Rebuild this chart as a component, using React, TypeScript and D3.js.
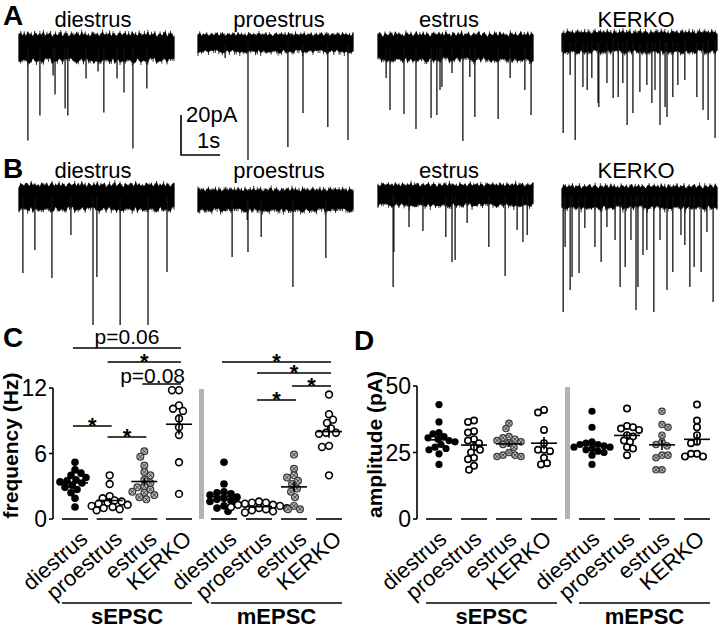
import React from "react";
import * as d3 from "d3";

const FONT = "'Liberation Sans', Arial, Helvetica, sans-serif";

// ---------- Trace data (A: sEPSC, B: mEPSC) ----------
const conditions = ["diestrus", "proestrus", "estrus", "KERKO"];
// spikes: [time (s), amplitude (pA, inward)]
const A_diestrus = [[0.23,46.5],[0.54,34],[0.88,14],[0.93,23.5],[1.19,30.5],[1.26,34],[1.73,15.5],[2.04,12],[2.19,32.5],[2.53,15.5],[2.71,22.5],[2.94,50.5],[3.30,20.5]];
const A_proestrus = [[0.70,7.5],[1.29,58.5],[2.32,52],[2.71,35],[3.35,42],[3.87,48.5]];
const A_estrus = [[0.21,15.5],[0.31,31.5],[0.67,33.5],[0.98,41],[1.37,35.5],[1.52,34],[1.60,21.5],[1.65,20],[1.91,13],[2.19,47],[2.37,15],[2.50,35],[3.10,36],[3.41,15.5],[3.79,21.5],[3.95,34]];
const A_KERKO = [[0.03,45.5],[0.21,16.5],[0.34,49],[0.54,22.5],[0.65,24],[0.77,18],[0.93,30.5],[0.95,32.5],[1.16,20.5],[1.32,28],[1.45,27.5],[1.57,20.5],[1.68,41.5],[1.83,35.5],[2.01,25],[2.19,21.5],[2.32,30.5],[2.40,24],[2.53,41.5],[2.66,32.5],[2.71,37.5],[2.86,27.5],[2.99,21.5],[3.17,19],[3.48,27.5],[3.64,34],[3.77,39],[3.95,48]];
const B_diestrus = [[0.10,38],[0.41,26.5],[0.85,40.5],[1.34,19],[1.91,64],[2.01,40],[2.61,64],[3.33,64],[3.82,37.5]];
const B_proestrus = [[0.88,28.5],[1.27,10],[1.29,26],[1.63,18.5],[2.45,43.5],[3.30,29]];
const B_estrus = [[0.39,46],[0.41,28.5],[0.80,16],[1.16,18],[1.75,21],[1.91,33.5],[1.99,32.5],[2.30,14],[2.86,26],[3.28,40.5],[3.59,17.5],[3.74,23.5],[3.85,20]];
const B_KERKO = [[0.03,57.5],[0.08,25],[0.21,46.5],[0.26,40],[0.44,38],[0.59,15.5],[0.85,25],[1.01,32.5],[1.16,15],[1.37,21.5],[1.50,45],[1.63,35],[1.78,21.5],[1.91,56.5],[1.96,45],[2.09,29],[2.19,26.5],[2.37,57.5],[2.53,21.5],[2.71,46.5],[2.86,37.5],[3.07,19],[3.17,24],[3.30,45],[3.41,35],[3.59,37.5],[3.74,17.5],[3.90,52.5]];
// noise band half-width (pA)
const A_noise = [7.75, 5, 7.5, 5.75];
const B_noise = [7.25, 6, 6, 6.25];
// envelope jitter profile (fraction of half-width)
const NOISE = [0.6,0.9,0.4,0.8,0.3,1.0,0.5,0.7,0.2,0.9,0.6,0.4,0.8,0.5,1.0,0.3,0.7,0.6,0.9,0.2,0.5,0.8,0.4,0.7,1.0,0.3,0.6,0.9,0.5,0.2,0.8,0.6,0.4,0.9,0.7,0.3,1.0,0.5,0.8,0.4,0.6,0.2,0.9,0.7,0.5,0.8,0.3,0.6,1.0,0.4,0.7,0.5,0.9,0.3,0.8,0.6,0.2,0.7,0.9,0.5];

// ---------- Scatter data ----------
const freq_sEPSC_diestrus = [5.2,4.5,4.2,4.0,3.8,3.6,3.5,3.4,3.3,3.1,2.9,2.7,2.4,1.9,1.1];
const freq_sEPSC_proestrus = [4.0,3.2,2.1,1.9,1.7,1.6,1.5,1.4,1.3,1.2,1.1,1.0,0.9,0.8];
const freq_sEPSC_estrus = [6.2,5.7,4.9,4.3,4.0,3.6,3.3,3.0,2.9,2.7,2.5,2.4,2.2,2.0,1.8];
const freq_sEPSC_KERKO = [11.8,11.8,10.4,10.1,9.9,9.2,8.4,7.7,5.2,2.3];
const freq_mEPSC_diestrus = [5.2,3.2,2.5,2.4,2.3,2.2,2.0,1.9,1.8,1.7,1.6,1.4,1.2,1.0,0.7];
const freq_mEPSC_proestrus = [1.6,1.5,1.5,1.4,1.3,1.3,1.2,1.1,1.0,1.0,0.9,0.8,0.7,0.6];
const freq_mEPSC_estrus = [5.9,4.6,4.0,3.8,3.5,3.2,2.8,2.5,2.0,1.2,0.9,0.9];
const freq_mEPSC_KERKO = [11.4,9.6,9.1,8.8,8.3,7.9,7.8,7.9,6.6,6.7,4.0];

const amp_sEPSC_diestrus = [43,36.5,32.5,32,31,30.5,30,29.5,29,28,27,26.5,26,24.5,20.5];
const amp_sEPSC_proestrus = [37,36.5,33,32.5,30,29.5,28.5,27,26,25,23,22.5,20,18.5];
const amp_sEPSC_estrus = [36,34,31,30.5,30,29.5,29,28.5,28,27,25,24,24,23.5,23.5];
const amp_sEPSC_KERKO = [41,40,33.5,28.5,26,26,25.5,23,21,20.5];
const amp_mEPSC_diestrus = [40.5,34.5,29,28.5,28,28,27.5,27,27,26.5,26,25.5,25,24,20.5];
const amp_mEPSC_proestrus = [41.5,35,34.5,34,33.5,31.5,31,29.5,29,27,26.5,24];
const amp_mEPSC_estrus = [40.5,35.5,34.5,31.5,29,28,27.5,24,24,23,18.5,18.5];
const amp_mEPSC_KERKO = [43,37,34.5,31.5,29,28.5,24.5,24.5,23.5,23.5];

const freqTicks = [0, 6, 12];
const ampTicks = [0, 25, 50];
const groups = ["sEPSC", "mEPSC"];

// significance: [group, from, to, label]
const freqSig = [
  ["sEPSC", "diestrus", "KERKO", "p=0.06"],
  ["sEPSC", "proestrus", "KERKO", "*"],
  ["sEPSC", "estrus", "KERKO", "p=0.08"],
  ["sEPSC", "diestrus", "proestrus", "*"],
  ["sEPSC", "proestrus", "estrus", "*"],
  ["mEPSC", "diestrus", "KERKO", "*"],
  ["mEPSC", "proestrus", "KERKO", "*"],
  ["mEPSC", "estrus", "KERKO", "*"],
  ["mEPSC", "proestrus", "estrus", "*"],
];
const freqSigY = [348, 362, 384, 426, 437, 362, 373, 386, 400];

function swarm(values: number[], y: (v: number) => number, cx: number, minD: number) {
  const pts = values.map((v) => ({ v, y: y(v), x: cx }));
  const order = [...pts].sort((a, b) => a.y - b.y);
  const placed: any[] = [];
  let flip = 1;
  for (const p of order) {
    for (let k = 0; k < 40; k++) {
      const cands = k === 0 ? [0] : [flip * k, -flip * k];
      let ok = false;
      for (const off of cands) {
        const x = cx + off;
        if (placed.every((q) => Math.hypot(q.x - x, q.y - p.y) >= minD)) {
          p.x = x; ok = true; break;
        }
      }
      if (ok) break;
    }
    flip = -flip;
    placed.push(p);
  }
  return pts;
}

function Marker({ x, y, kind, r }: any) {
  if (kind === "diestrus") return <circle cx={x} cy={y} r={r + 0.4} fill="#000" />;
  if (kind === "estrus") {
    const a = r * 0.62;
    return (
      <g>
        <circle cx={x} cy={y} r={r} fill="#b5b5b5" stroke="#3a3a3a" strokeWidth={1.2} />
        <line x1={x - a} y1={y - a} x2={x + a} y2={y + a} stroke="#3a3a3a" strokeWidth={0.9} />
        <line x1={x - a} y1={y + a} x2={x + a} y2={y - a} stroke="#3a3a3a" strokeWidth={0.9} />
      </g>
    );
  }
  return <circle cx={x} cy={y} r={r} fill="#fff" stroke="#000" strokeWidth={1.6} />;
}

function Trace({ x0, yc, half, spikes, off }: any) {
  const t = d3.scaleLinear().domain([0, 4]).range([x0, x0 + 155]);
  const i = d3.scaleLinear().domain([0, -60]).range([yc, yc + 120]);
  const N = 90;
  const samples = d3.range(N).map((k) => ({
    t: (4 * k) / (N - 1),
    top: half * (0.55 + 0.45 * NOISE[(k + off) % NOISE.length]),
    bot: -half * (0.55 + 0.45 * NOISE[(k * 7 + off + 23) % NOISE.length]),
  }));
  const area = d3.area<any>().x((d) => t(d.t)).y0((d) => i(d.bot)).y1((d) => i(d.top));
  return (
    <g>
      <path d={area(samples) || ""} fill="#000" stroke="#000" strokeWidth={0.8} strokeLinejoin="miter" />
      {samples.map((d, k) => (
        <line key={k} x1={t(d.t)} x2={t(d.t)} y1={i(d.top + 1.2 * NOISE[(k * 3 + off) % 60])} y2={i(d.bot - 1.5 * NOISE[(k * 5 + off + 11) % 60])} stroke="#000" strokeWidth={0.8} />
      ))}
      {spikes.map((s: number[], k: number) => (
        <line key={"s" + k} x1={t(s[0])} x2={t(s[0])} y1={i(0)} y2={i(-s[1])} stroke="#111" strokeWidth={1.3} />
      ))}
    </g>
  );
}

function ScatterPanel({ y, data, xs, labelDx, yTicks, axisX, yLabel, sepX, sig, sigY, r }: any) {
  const els: any[] = [];
  groups.forEach((g, gi) => {
    conditions.forEach((c, ci) => {
      const vals = data[gi][ci];
      const cx = xs[gi](c);
      const pts = swarm(vals, y, cx, 2 * r - 0.4);
      const mean = d3.mean(vals) as number;
      const sem = (d3.deviation(vals) as number) / Math.sqrt(vals.length);
      els.push(
        <g key={g + c}>
          <line x1={cx - 13} x2={cx + 13} y1={y(0)} y2={y(0)} stroke="#000" strokeWidth={1.6} />
          {pts.map((p: any, k: number) => <Marker key={k} x={p.x} y={p.y} kind={c} r={r} />)}
          <line x1={cx - 13} x2={cx + 13} y1={y(mean)} y2={y(mean)} stroke="#000" strokeWidth={1.6} />
          <line x1={cx} x2={cx} y1={y(mean - sem)} y2={y(mean + sem)} stroke="#000" strokeWidth={1.6} />
          <text transform={`translate(${cx + labelDx},541) rotate(-41)`} textAnchor="end" fontSize={22} fontFamily={FONT}>{c}</text>
        </g>
      );
    });
    const [a, b] = xs[gi].range();
    els.push(
      <g key={"grp" + g}>
        <line x1={a - 13} x2={b + 13} y1={603} y2={603} stroke="#000" strokeWidth={1.6} />
        <text x={(a + b) / 2} y={624} textAnchor="middle" fontSize={22} fontWeight="bold" fontFamily={FONT}>{g}</text>
      </g>
    );
  });
  const [y0, y1] = y.range();
  return (
    <g>
      <rect x={sepX - 2.5} y={y1 + 1} width={5} height={y0 - y1 - 1} fill="#b3b3b3" />
      <line x1={axisX} x2={axisX} y1={y1} y2={y0} stroke="#000" strokeWidth={1.6} />
      {yTicks.map((tv: number) => (
        <g key={tv}>
          <line x1={axisX - 4} x2={axisX} y1={y(tv)} y2={y(tv)} stroke="#000" strokeWidth={1.6} />
          <text x={axisX - 6} y={y(tv) + 8} textAnchor="end" fontSize={23} fontFamily={FONT}>{tv}</text>
        </g>
      ))}
      <text transform={`translate(${axisX - 35},${(y0 + y1) / 2 - 8}) rotate(-90)`} textAnchor="middle" fontSize={21} fontWeight="bold" fontFamily={FONT}>{yLabel}</text>
      {els}
      {sig && sig.map((s: any, k: number) => {
        const gi = groups.indexOf(s[0]);
        const xa = xs[gi](s[1]) - 2, xb = xs[gi](s[2]) + 2;
        const ly = sigY[k];
        const isStar = s[3] === "*";
        return (
          <g key={"sig" + k}>
            <line x1={xa} x2={xb} y1={ly} y2={ly} stroke="#000" strokeWidth={1.6} />
            {isStar ? (
              <text x={(xa + xb) / 2} y={ly + 7} textAnchor="middle" fontSize={22} fontWeight="bold" fontFamily={FONT}>*</text>
            ) : (
              <text x={s[1] === "estrus" ? xb + 4 : (xa + xb) / 2} y={s[1] === "estrus" ? ly - 1 : ly - 4} textAnchor={s[1] === "estrus" ? "end" : "middle"} fontSize={21} fontFamily={FONT}>{s[3]}</text>
            )}
          </g>
        );
      })}
    </g>
  );
}

export default function App() {
  const traceLabelX = [93, 279, 449, 636];
  const Acenters = [47.5, 43, 47, 42];
  const Bcenters = [197, 200, 195, 197];
  const Aspikes = [A_diestrus, A_proestrus, A_estrus, A_KERKO];
  const Bspikes = [B_diestrus, B_proestrus, B_estrus, B_KERKO];
  const traceX0 = [19, 198, 378, 562];

  const yFreq = d3.scaleLinear().domain([0, 12]).range([519, 388]);
  const yAmp = d3.scaleLinear().domain([0, 50]).range([519, 386]);
  const xsC = [
    d3.scalePoint().domain(conditions).range([75, 179]),
    d3.scalePoint().domain(conditions).range([224, 329]),
  ];
  const xsD = [
    d3.scalePoint().domain(conditions).range([439, 544]),
    d3.scalePoint().domain(conditions).range([592, 697]),
  ];
  const freqData = [
    [freq_sEPSC_diestrus, freq_sEPSC_proestrus, freq_sEPSC_estrus, freq_sEPSC_KERKO],
    [freq_mEPSC_diestrus, freq_mEPSC_proestrus, freq_mEPSC_estrus, freq_mEPSC_KERKO],
  ];
  const ampData = [
    [amp_sEPSC_diestrus, amp_sEPSC_proestrus, amp_sEPSC_estrus, amp_sEPSC_KERKO],
    [amp_mEPSC_diestrus, amp_mEPSC_proestrus, amp_mEPSC_estrus, amp_mEPSC_KERKO],
  ];

  return (
    <svg width={720} height={629} style={{ position: "absolute", left: 0, top: 0, background: "#fff" }} fontFamily={FONT}>
      <rect width={720} height={629} fill="#fff" />
      {/* panel letters */}
      <text x={3} y={25} fontSize={28} fontWeight="bold">A</text>
      <text x={3} y={178} fontSize={28} fontWeight="bold">B</text>
      <text x={3} y={347} fontSize={28} fontWeight="bold">C</text>
      <text x={354} y={350} fontSize={28} fontWeight="bold">D</text>

      {/* traces A */}
      {conditions.map((c, k) => (
        <g key={"A" + c}>
          <Trace x0={traceX0[k]} yc={Acenters[k]} half={A_noise[k]} spikes={Aspikes[k]} off={k * 13} />
          <text x={traceLabelX[k]} y={27} textAnchor="middle" fontSize={22}>{c}</text>
        </g>
      ))}
      {/* traces B */}
      {conditions.map((c, k) => (
        <g key={"B" + c}>
          <Trace x0={traceX0[k]} yc={Bcenters[k]} half={B_noise[k]} spikes={Bspikes[k]} off={k * 13 + 29} />
          <text x={traceLabelX[k]} y={178} textAnchor="middle" fontSize={22}>{c}</text>
        </g>
      ))}
      {/* scale bar */}
      <path d="M181,115 V155 H220" fill="none" stroke="#000" strokeWidth={1.6} />
      <text x={186} y={122} fontSize={22}>20pA</text>
      <text x={197} y={148} fontSize={22}>1s</text>

      <ScatterPanel y={yFreq} data={freqData} xs={xsC} labelDx={14} yTicks={freqTicks} axisX={53} yLabel="frequency (Hz)" sepX={201.5} sig={freqSig} sigY={freqSigY} r={3.4} />
      <ScatterPanel y={yAmp} data={ampData} xs={xsD} labelDx={9} yTicks={ampTicks} axisX={417} yLabel="amplitude (pA)" sepX={567.5} r={3.2} />
    </svg>
  );
}
